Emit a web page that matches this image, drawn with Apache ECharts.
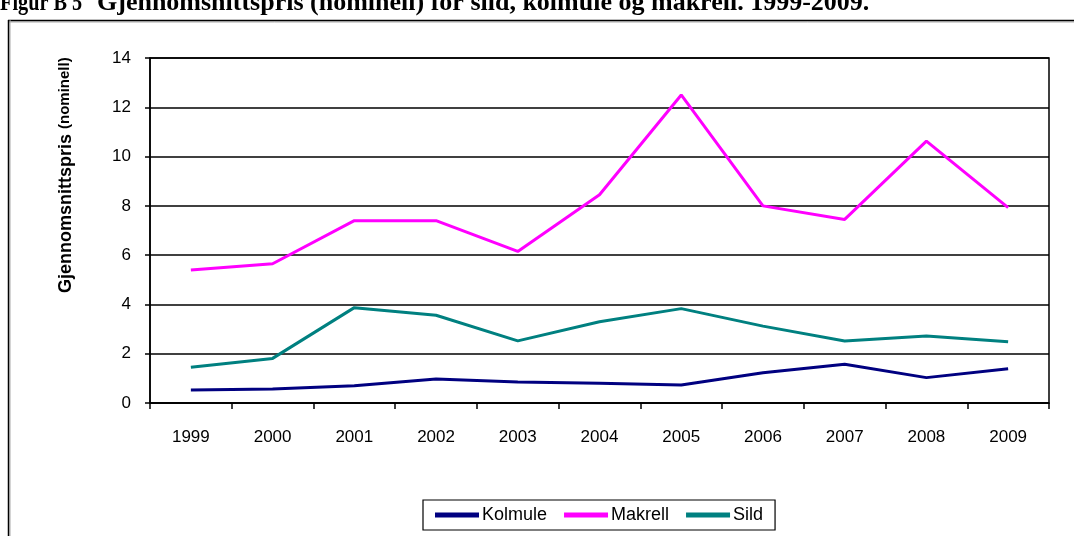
<!DOCTYPE html>
<html>
<head>
<meta charset="utf-8">
<script src="https://cdn.jsdelivr.net/npm/echarts@6/dist/echarts.min.js"></script>
<style>
html,body{margin:0;padding:0;background:#fff;}
#c{width:1074px;height:536px;}
</style>
</head>
<body>
<div id="c"></div>
<script>
const years = ['1999','2000','2001','2002','2003','2004','2005','2006','2007','2008','2009'];
const kolmule = [0.53, 0.57, 0.70, 0.97, 0.85, 0.80, 0.73, 1.23, 1.57, 1.03, 1.39];
const makrell = [5.40, 5.65, 7.40, 7.40, 6.15, 8.45, 12.50, 8.00, 7.45, 10.63, 7.93];
const sild = [1.45, 1.81, 3.87, 3.56, 2.52, 3.30, 3.83, 3.12, 2.52, 2.72, 2.49];
const yTicks = [0, 2, 4, 6, 8, 10, 12, 14];

const chart = echarts.init(document.getElementById('c'), null, {renderer: 'canvas'});
const font = 'Arial, "Liberation Sans", sans-serif';
const serif = '"Times New Roman", "Liberation Serif", serif';

chart.setOption({
  backgroundColor: '#fff',
  animation: false,
  grid: {left: 150, right: 25, top: 58, bottom: 133, show: true, borderColor: '#000', borderWidth: 1.5, containLabel: false},
  xAxis: {
    type: 'category',
    data: years,
    boundaryGap: true,
    axisLine: {lineStyle: {color: '#000', width: 1.5}},
    axisTick: {show: true, alignWithLabel: false, length: 6, lineStyle: {color: '#000', width: 1.5}},
    axisLabel: {color: '#000', fontFamily: font, fontSize: 17, margin: 26}
  },
  yAxis: {
    type: 'value',
    min: yTicks[0],
    max: yTicks[yTicks.length - 1],
    interval: 2,
    axisLine: {show: true, lineStyle: {color: '#000', width: 1.5}},
    axisTick: {show: true, length: 5, lineStyle: {color: '#000', width: 1.5}},
    axisLabel: {color: '#000', fontFamily: font, fontSize: 17, margin: 19},
    splitLine: {show: true, lineStyle: {color: '#000', width: 1.5}}
  },
  legend: {
    left: 423, top: 500,
    borderColor: '#000', borderWidth: 1.2,
    padding: [6, 12, 6, 12],
    itemGap: 17,
    itemWidth: 44, itemHeight: 5,
    icon: 'rect',
    textStyle: {color: '#000', fontFamily: font, fontSize: 18, padding: [0, 0, 0, -2]},
    data: ['Kolmule', 'Makrell', 'Sild']
  },
  graphic: [
    {type: 'text', x: 0, y: -10, scaleX: 0.78, style: {text: 'Figur B 5', font: 'bold 26px ' + serif, fill: '#000', textAlign: 'left'}},
    {type: 'text', x: 97, y: -10, style: {text: 'Gjennomsnittspris (nominell) for sild, kolmule og makrell. 1999-2009.', font: 'bold 26px ' + serif, fill: '#000'}},
    {type: 'line', shape: {x1: 8, y1: 22, x2: 1074, y2: 22}, style: {stroke: '#aaa', lineWidth: 1}},
    {type: 'line', shape: {x1: 8, y1: 20.5, x2: 1074, y2: 20.5}, style: {stroke: '#000', lineWidth: 1.5}},
    {type: 'line', shape: {x1: 10, y1: 20, x2: 10, y2: 536}, style: {stroke: '#aaa', lineWidth: 1}},
    {type: 'line', shape: {x1: 8.5, y1: 20, x2: 8.5, y2: 536}, style: {stroke: '#000', lineWidth: 1.5}},
    {type: 'text', x: 66, y: 293, rotation: Math.PI / 2, style: {text: 'Gjennomsnittspris', font: 'bold 18px ' + font, fill: '#000', textAlign: 'left', textVerticalAlign: 'middle'}},
    {type: 'text', x: 65, y: 129, rotation: Math.PI / 2, style: {text: '(nominell)', font: 'bold 15px ' + font, fill: '#000', textAlign: 'left', textVerticalAlign: 'middle'}}
  ],
  series: [
    {name: 'Kolmule', type: 'line', data: kolmule, symbol: 'none', lineStyle: {color: '#000080', width: 3}, itemStyle: {color: '#000080'}},
    {name: 'Makrell', type: 'line', data: makrell, symbol: 'none', lineStyle: {color: '#FF00FF', width: 3}, itemStyle: {color: '#FF00FF'}},
    {name: 'Sild', type: 'line', data: sild, symbol: 'none', lineStyle: {color: '#008080', width: 3}, itemStyle: {color: '#008080'}}
  ]
});
</script>
</body>
</html>
